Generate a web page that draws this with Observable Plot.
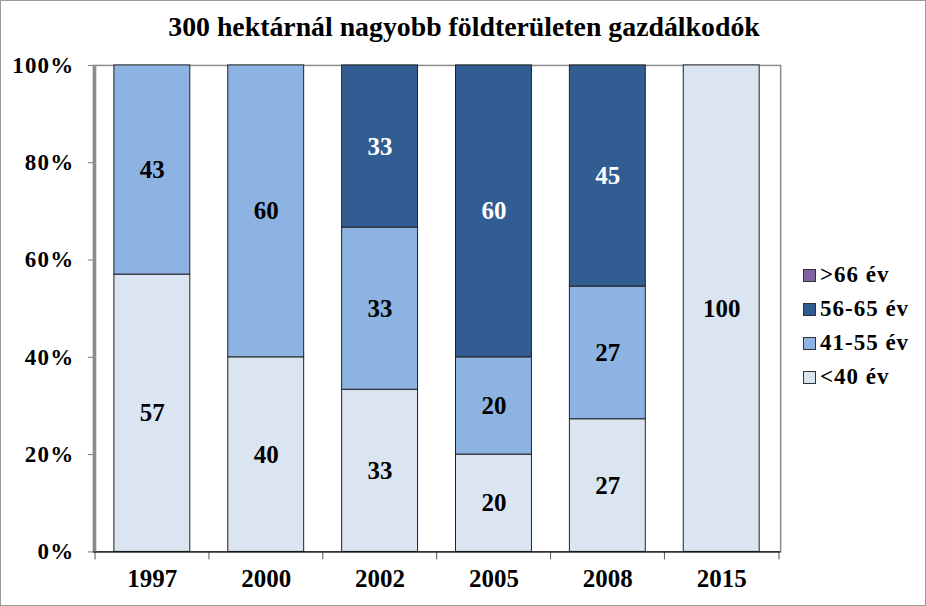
<!DOCTYPE html>
<html>
<head>
<meta charset="utf-8">
<script src="https://cdn.jsdelivr.net/npm/d3@7"></script>
<script src="https://cdn.jsdelivr.net/npm/@observablehq/plot@0.6"></script>
<style>
  html, body { margin: 0; padding: 0; background: #fff; }
  #wrap { position: relative; width: 926px; height: 606px; box-sizing: border-box; border: 1px solid #9a9a9a; overflow: hidden; font-family: "Liberation Serif", "Times New Roman", serif; }
  #title { position: absolute; left: 0; width: 926px; top: 12px; text-align: center; font-weight: bold; font-size: 27.8px; line-height: 1; color: #000; }
  #chart { position: absolute; left: -1px; top: -1px; }
  #chart svg, #chart svg text { font-family: "Liberation Serif", "Times New Roman", serif !important; }
  #chart svg g[aria-label="y-axis tick label"] text { letter-spacing: 1.2px; }
  #legend { position: absolute; left: 802px; top: 257px; font-weight: bold; font-size: 23px; letter-spacing: 1px; color: #000; }
  .item { display: flex; align-items: center; height: 34px; }
  .sw { width: 13px; height: 13px; box-sizing: border-box; border: 1px solid #333; margin-right: 4px; }
</style>
</head>
<body>
<div id="wrap">
  <div id="chart"></div>
  <div id="title">300 hektárnál nagyobb földterületen gazdálkodók</div>
  <div id="legend"></div>
</div>
<script>
const years = ["1997", "2000", "2002", "2005", "2008", "2015"];
const groups = ["<40 év", "41-55 év", "56-65 év", ">66 év"];
const under40 = [57, 40, 33, 20, 27, 100];
const age41_55 = [43, 60, 33, 20, 27, 0];
const age56_65 = [0, 0, 33, 60, 45, 0];
const over66 = [0, 0, 0, 0, 0, 0];
const colors = ["#dbe5f1", "#8db3e2", "#325d92", "#8064a2"];
const yTicks = [0, 0.2, 0.4, 0.6, 0.8, 1];

const series = [under40, age41_55, age56_65, over66];
const rows = [];
years.forEach((yr, i) => {
  groups.forEach((g, j) => {
    const v = series[j][i];
    if (v > 0) rows.push({year: yr, group: g, value: v});
  });
});

const W = 926, H = 606;
const mL = 93, mR = 145, mT = 65, mB = 54;
const halfStep = (W - mL - mR) / years.length / 2;

const chart = Plot.plot({
  width: W,
  height: H,
  marginLeft: mL,
  marginRight: mR,
  marginTop: mT,
  marginBottom: mB,
  style: {background: "transparent", overflow: "visible"},
  x: {domain: years, paddingInner: 0.335, paddingOuter: 0.1675, label: null},
  y: {domain: [0, 1], label: null},
  color: {domain: groups, range: colors},
  marks: [
    Plot.frame({stroke: "#8c8c8c", strokeWidth: 1.5}),
    Plot.barY(rows, Plot.stackY({offset: "normalize", x: "year", y: "value", z: "group", fill: "group", stroke: "#222", strokeWidth: 1})),
    Plot.text(rows, Plot.stackY({offset: "normalize", x: "year", y: "value", z: "group", text: d => String(d.value),
      fill: d => d.group === "56-65 év" ? "#fff" : "#000", fontSize: 25, fontWeight: "bold"})),
    Plot.axisY({ticks: yTicks, tickFormat: d => Math.round(d * 100) + "%", tickSize: 5, tickPadding: 14, stroke: "#777",
      fontSize: 23, fontWeight: "bold", fill: "#000", label: null}),
    Plot.axisX({tickSize: 0, tickPadding: 17, fontSize: 25, fontWeight: "bold", fill: "#000", label: null}),
    Plot.axisX({text: null, tickSize: 8, dx: -halfStep, stroke: "#555", label: null}),
    Plot.axisX({text: null, ticks: ["2015"], tickSize: 8, dx: halfStep, stroke: "#555", label: null}),
    Plot.ruleY([0], {stroke: "#111", strokeWidth: 1.2}),
    Plot.ruleX([years[0]], {dx: -halfStep, stroke: "#8c8c8c", strokeWidth: 2.5})
  ]
});
document.getElementById("chart").appendChild(chart);

const legend = document.getElementById("legend");
for (let j = groups.length - 1; j >= 0; j--) {
  const it = document.createElement("div");
  it.className = "item";
  const sw = document.createElement("div");
  sw.className = "sw";
  sw.style.background = colors[j];
  const tx = document.createElement("span");
  tx.textContent = groups[j];
  it.appendChild(sw);
  it.appendChild(tx);
  legend.appendChild(it);
}
</script>
</body>
</html>
